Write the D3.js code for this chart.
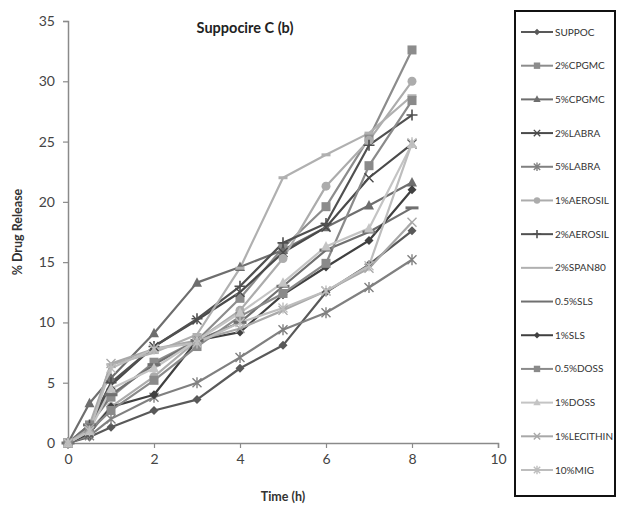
<!DOCTYPE html>
<html><head><meta charset="utf-8">
<script src="https://cdn.jsdelivr.net/npm/d3@7"></script>
<style>body{margin:0;background:#fff}svg{display:block}</style>
</head><body><svg id="c" width="619" height="510"></svg>
<script>
const times = [0, 0.5, 1, 2, 3, 4, 5, 6, 7, 8];
const seriesNames = ["SUPPOC","2%CPGMC","5%CPGMC","2%LABRA","5%LABRA","1%AEROSIL","2%AEROSIL","2%SPAN80","0.5%SLS","1%SLS","0.5%DOSS","1%DOSS","1%LECITHIN","10%MIG"];
const suppoc    = [0, 0.5, 1.3, 2.7, 3.6, 6.2, 8.1, 12.5, 14.8, 17.6];
const cpgmc2    = [0, 1.5, 3.8, 6.7, 8.5, 12.0, 16.2, 19.6, 25.3, 32.6];
const cpgmc5    = [0, 3.3, 5.4, 9.1, 13.3, 14.6, 16.0, 17.9, 19.7, 21.6];
const labra2    = [0, 1.2, 4.8, 8.0, 10.2, 12.5, 15.8, 17.9, 22.0, 24.8];
const labra5    = [0, 0.6, 2.0, 3.8, 5.0, 7.1, 9.4, 10.8, 12.9, 15.2];
const aerosil1  = [0, 1.0, 3.0, 5.5, 8.5, 11.0, 15.3, 21.3, 25.1, 30.0];
const aerosil2  = [0, 1.5, 5.0, 8.0, 10.3, 13.0, 16.6, 18.2, 24.7, 27.2];
const span80    = [0, 1.5, 6.5, 7.5, 9.0, 14.5, 22.0, 23.9, 25.7, 28.8];
const sls05     = [0, 1.5, 4.0, 6.5, 8.5, 10.0, 13.0, 16.0, 17.5, 19.5];
const sls1      = [0, 0.8, 3.0, 4.0, 8.5, 9.2, 12.3, 14.6, 16.8, 21.0];
const doss05    = [0, 1.0, 2.7, 5.2, 8.0, 10.5, 12.4, 14.9, 23.0, 28.4];
const doss1     = [0, 1.0, 4.5, 6.2, 8.5, 10.8, 13.3, 16.3, 17.8, 24.8];
const lecithin1 = [0, 1.2, 6.6, 7.8, 8.5, 9.5, 11.0, 12.6, 14.5, 18.3];
const mig10     = [0, 1.0, 6.2, 7.8, 8.3, 10.0, 11.2, 12.6, 14.7, 24.9];
const seriesValues = [suppoc,cpgmc2,cpgmc5,labra2,labra5,aerosil1,aerosil2,span80,sls05,sls1,doss05,doss1,lecithin1,mig10];
const xTicks = [0, 2, 4, 6, 8, 10];
const yTicks = [0, 5, 10, 15, 20, 25, 30, 35];

const colors = ["#595959","#8c8c8c","#6e6e6e","#4a4a4a","#808080","#acacac","#505050","#b0b0b0","#707070","#404040","#8a8a8a","#c4c4c4","#a8a8a8","#bdbdbd"];
const markers = ["diamond","square","triangle","x","star","circle","plus","dash","ldash","diamond","square","triangle","x","star"];

const svg = d3.select("#c");
const font = "Lato, 'Open Sans', sans-serif";
const x = d3.scaleLinear().domain([0,10]).range([68,498]);
const y = d3.scaleLinear().domain([0,35]).range([443,21]);

const xa = svg.append("g").attr("transform","translate(0,443)")
  .call(d3.axisBottom(x).tickValues(xTicks).tickSize(5).tickPadding(6));
const ya = svg.append("g").attr("transform","translate(68,0)")
  .call(d3.axisLeft(y).tickValues(yTicks).tickSize(5).tickPadding(8));
[xa,ya].forEach(a=>{
  a.select(".domain").attr("stroke","#8a8a8a").attr("stroke-width",1.5);
  a.selectAll(".tick line").attr("stroke","#8a8a8a").attr("stroke-width",1.2);
  a.selectAll(".tick text").attr("font-family",font).attr("font-size",14).attr("fill","#444");
});

function drawMarker(g, type, cx, cy, color, s){
  s = s || 4.5;
  switch(type){
    case "diamond": g.append("path").attr("d",`M${cx},${cy-s}L${cx+s},${cy}L${cx},${cy+s}L${cx-s},${cy}Z`).attr("fill",color); break;
    case "square": g.append("rect").attr("x",cx-s).attr("y",cy-s).attr("width",2*s).attr("height",2*s).attr("fill",color); break;
    case "triangle": g.append("path").attr("d",`M${cx},${cy-s-1}L${cx+s+0.5},${cy+s-0.5}L${cx-s-0.5},${cy+s-0.5}Z`).attr("fill",color); break;
    case "circle": g.append("circle").attr("cx",cx).attr("cy",cy).attr("r",s).attr("fill",color); break;
    case "x": g.append("path").attr("d",`M${cx-s},${cy-s}L${cx+s},${cy+s}M${cx-s},${cy+s}L${cx+s},${cy-s}`).attr("stroke",color).attr("stroke-width",1.4); break;
    case "star": g.append("path").attr("d",`M${cx-s},${cy-s}L${cx+s},${cy+s}M${cx-s},${cy+s}L${cx+s},${cy-s}M${cx},${cy-s-1}L${cx},${cy+s+1}`).attr("stroke",color).attr("stroke-width",1.4); break;
    case "plus": g.append("path").attr("d",`M${cx-s-1},${cy}L${cx+s+1},${cy}M${cx},${cy-s-1}L${cx},${cy+s+1}`).attr("stroke",color).attr("stroke-width",1.6); break;
    case "dash": g.append("path").attr("d",`M${cx-s},${cy}L${cx+s},${cy}`).attr("stroke",color).attr("stroke-width",3); break;
    case "ldash": g.append("path").attr("d",`M${cx-s-2},${cy}L${cx+s+2},${cy}`).attr("stroke",color).attr("stroke-width",3); break;
  }
}

const line = d3.line().x((d,i)=>x(times[i])).y(d=>y(d));
const plot = svg.append("g");
seriesValues.forEach((vals,k)=>{
  plot.append("path").attr("d",line(vals)).attr("fill","none")
    .attr("stroke",colors[k]).attr("stroke-width",2.2).attr("stroke-linejoin","round");
});
seriesValues.forEach((vals,k)=>{
  const mg = plot.append("g");
  vals.forEach((v,i)=>drawMarker(mg, markers[k], x(times[i]), y(v), colors[k]));
});

svg.append("text").attr("x",245).attr("y",33).attr("text-anchor","middle")
  .attr("font-family",font).attr("font-weight","bold").attr("font-size",14.5).attr("fill","#222").text("Suppocire C (b)");
svg.append("text").attr("x",283).attr("y",501).attr("text-anchor","middle")
  .attr("font-family",font).attr("font-weight","bold").attr("font-size",12.5).attr("fill","#333").text("Time (h)");
svg.append("text").attr("transform","translate(22,232) rotate(-90)").attr("text-anchor","middle")
  .attr("font-family",font).attr("font-weight","bold").attr("font-size",12.5).attr("fill","#333").text("% Drug Release");

svg.append("rect").attr("x",515).attr("y",11).attr("width",100).attr("height",485)
  .attr("fill","none").attr("stroke","#111").attr("stroke-width",2);
const legY = d3.scalePoint().domain(seriesNames).range([32,470]);
seriesNames.forEach((n,k)=>{
  const ly = legY(n);
  const lg = svg.append("g");
  lg.append("line").attr("x1",521).attr("x2",553).attr("y1",ly).attr("y2",ly)
    .attr("stroke",colors[k]).attr("stroke-width",2);
  if(markers[k]!=="dash" && markers[k]!=="ldash") drawMarker(lg, markers[k], 537, ly, colors[k], 3.2);
  lg.append("text").attr("x",555).attr("y",ly+3.5).attr("font-family",font).attr("font-size",10)
    .attr("fill","#333").text(n);
});
</script></body></html>
